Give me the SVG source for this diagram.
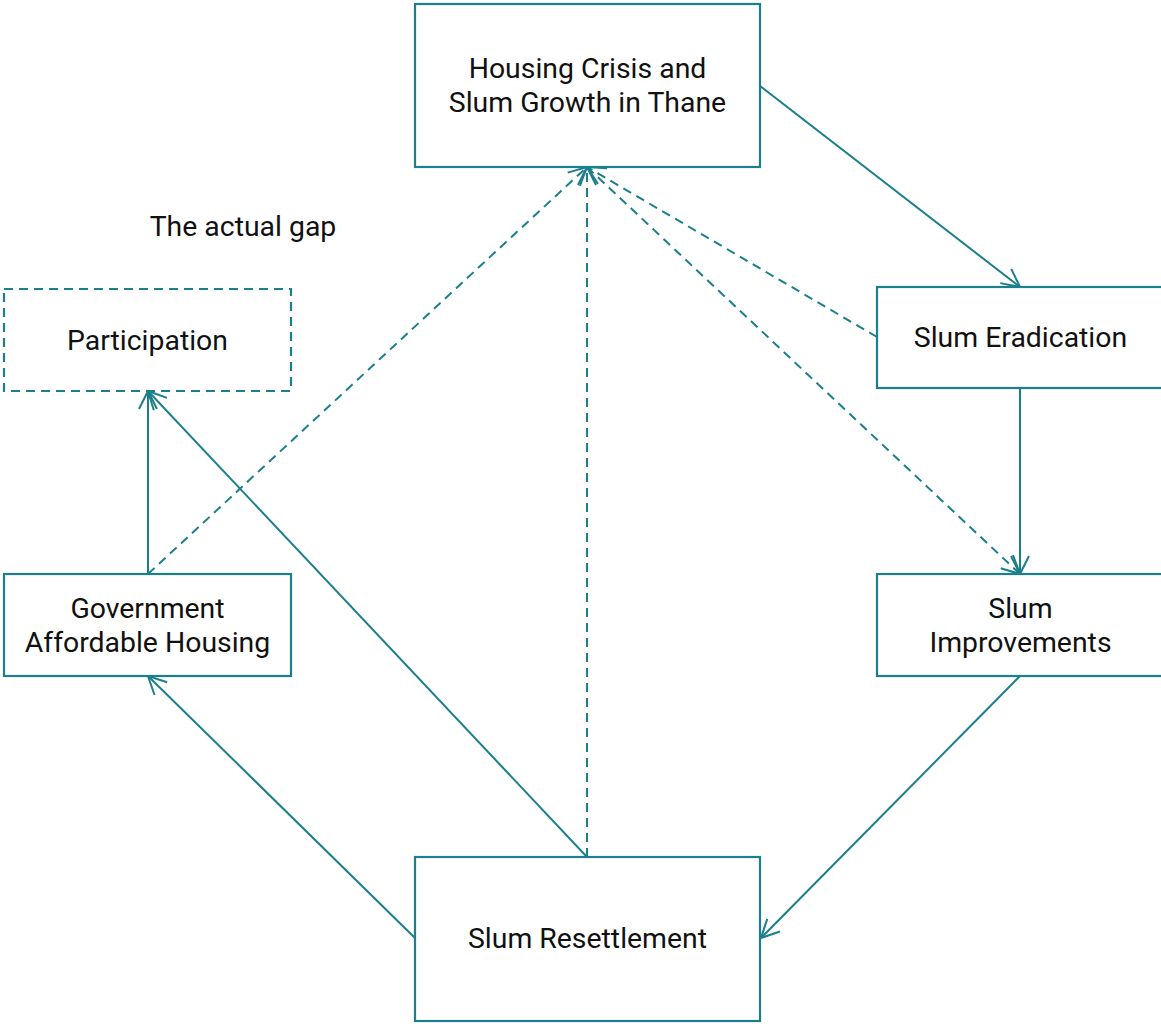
<svg xmlns="http://www.w3.org/2000/svg" width="1161" height="1027" viewBox="0 0 1161 1027">
<style>
.box{fill:#ffffff;stroke:#1b7f8c;stroke-width:2.2}
.dbox{fill:#ffffff;stroke:#1b7f8c;stroke-width:2.2;stroke-dasharray:9 6}
.t{font-family:Roboto,"Noto Sans",sans-serif;font-size:28.4px;fill:#111111;text-anchor:middle}
.e{fill:none;stroke:#1b7f8c;stroke-width:2}
.d{fill:none;stroke:#1b7f8c;stroke-width:2;stroke-dasharray:9 6}
</style>
<defs>
<marker id="a" viewBox="0 0 20 20" refX="19" refY="10" markerWidth="20" markerHeight="20" markerUnits="userSpaceOnUse" orient="auto">
<path d="M1,1 L19,10 L1,19" fill="none" stroke="#1b7f8c" stroke-width="2"/>
</marker>
</defs>
<rect width="1161" height="1027" fill="#ffffff"/>
<g id="connectors">
<path class="e" d="M760,86 L1020,287" marker-end="url(#a)"/>
<path class="e" d="M1020,388 L1020,574" marker-end="url(#a)"/>
<path class="e" d="M1020,676 L761,938" marker-end="url(#a)"/>
<path class="e" d="M415,938 L148,676" marker-end="url(#a)"/>
<path class="e" d="M148,574 L148,391" marker-end="url(#a)"/>
<path class="e" d="M587,857 L148,391" marker-end="url(#a)"/>
<path class="d" d="M587,857 L587,167" marker-end="url(#a)"/>
<path class="d" d="M148,574 L587,167" marker-end="url(#a)"/>
<path class="d" d="M877,337 L587,167" marker-end="url(#a)"/>
<path class="d" d="M587,167 L1020,574" marker-end="url(#a)"/>
</g>
<g id="housing">
<rect class="box" x="415" y="4" width="345" height="163"/>
<text class="t" x="587.5" y="78">Housing Crisis and</text>
<text class="t" x="587.5" y="111.5">Slum Growth in Thane</text>
</g>
<g id="eradication">
<rect class="box" x="877" y="287" width="287" height="101"/>
<text class="t" x="1020.5" y="347">Slum Eradication</text>
</g>
<g id="improvements">
<rect class="box" x="877" y="574" width="287" height="102"/>
<text class="t" x="1020.5" y="618">Slum</text>
<text class="t" x="1020.5" y="652">Improvements</text>
</g>
<g id="resettlement">
<rect class="box" x="415" y="857" width="345" height="164"/>
<text class="t" x="587.5" y="948">Slum Resettlement</text>
</g>
<g id="government">
<rect class="box" x="4" y="574" width="287" height="102"/>
<text class="t" x="147.5" y="617.5">Government</text>
<text class="t" x="147.5" y="651.5">Affordable Housing</text>
</g>
<g id="participation">
<rect class="dbox" x="4" y="289" width="287" height="102"/>
<text class="t" x="147.5" y="350">Participation</text>
</g>
<g id="gap-label">
<text class="t" x="243" y="236">The actual gap</text>
</g>
</svg>
